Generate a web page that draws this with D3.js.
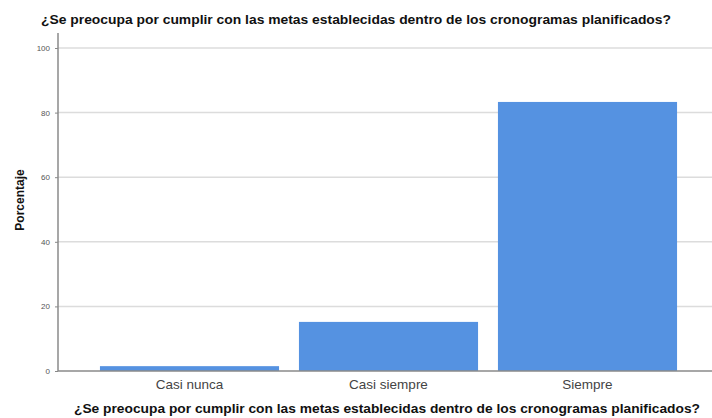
<!DOCTYPE html>
<html><head><meta charset="utf-8">
<script src="https://cdn.jsdelivr.net/npm/d3@7"></script>
<style>body{margin:0;background:#fff}svg{display:block}</style>
</head><body>
<svg id="c" width="712" height="418"></svg>
<script>
const categories = ["Casi nunca", "Casi siempre", "Siempre"];
const values = [1.5, 15.2, 83.3];
const yTicks = [0, 20, 40, 60, 80, 100];
const title = "¿Se preocupa por cumplir con las metas establecidas dentro de los cronogramas planificados?";
const yLabel = "Porcentaje";

(function () {
const svg = d3.select("#c");
const axisX = 58, rightEdge = 712, axisTop = 33;
const y = d3.scaleLinear().domain([0, 100]).range([371, 48]);
const x = d3.scaleBand().domain(categories).range([90, 687]).paddingInner(0.1).paddingOuter(0.05);
const font = "Liberation Sans, Arial, sans-serif";

svg.append("g").selectAll("line").data(yTicks.filter(d => d > 0)).join("line")
  .attr("x1", axisX).attr("x2", rightEdge).attr("y1", d => y(d)).attr("y2", d => y(d))
  .attr("stroke", "#dcdcdc").attr("stroke-width", 1.5);

svg.append("g").selectAll("rect").data(values).join("rect")
  .attr("x", (d, i) => x(categories[i])).attr("width", x.bandwidth())
  .attr("y", d => y(d)).attr("height", d => y(0) - y(d))
  .attr("fill", "#5592e1");

const ya = svg.append("g").attr("transform", `translate(${axisX},0)`)
  .call(d3.axisLeft(y).tickValues(yTicks).tickSize(3).tickPadding(5));
ya.select(".domain").remove();
ya.selectAll(".tick line").attr("stroke", "#888");
ya.selectAll(".tick text").attr("font-family", font).attr("font-size", 8).attr("fill", "#555");
svg.append("line").attr("x1", axisX).attr("x2", axisX).attr("y1", axisTop).attr("y2", y(0))
  .attr("stroke", "#8a8a8a").attr("stroke-width", 1.5);

svg.append("line").attr("x1", axisX).attr("x2", rightEdge).attr("y1", y(0)).attr("y2", y(0))
  .attr("stroke", "#8a8a8a").attr("stroke-width", 1.5);
const xa = svg.append("g").attr("transform", `translate(0,${y(0)})`)
  .call(d3.axisBottom(x).tickSize(0).tickPadding(8));
xa.select(".domain").remove();
xa.selectAll(".tick text").attr("font-family", font).attr("font-size", 13.5).attr("fill", "#444");

svg.append("text").attr("x", 356).attr("y", 24).attr("text-anchor", "middle")
  .attr("font-family", font).attr("font-weight", "bold").attr("font-size", 12)
  .attr("textLength", 630).attr("lengthAdjust", "spacingAndGlyphs")
  .attr("fill", "#111").text(title);
svg.append("text").attr("x", 387).attr("y", 413).attr("text-anchor", "middle")
  .attr("font-family", font).attr("font-weight", "bold").attr("font-size", 12.5)
  .attr("textLength", 626).attr("lengthAdjust", "spacingAndGlyphs")
  .attr("fill", "#111").text(title);
svg.append("text").attr("transform", "translate(24,200) rotate(-90)").attr("text-anchor", "middle")
  .attr("font-family", font).attr("font-weight", "bold").attr("font-size", 12)
  .attr("fill", "#111").text(yLabel);
})();
</script>
</body></html>
